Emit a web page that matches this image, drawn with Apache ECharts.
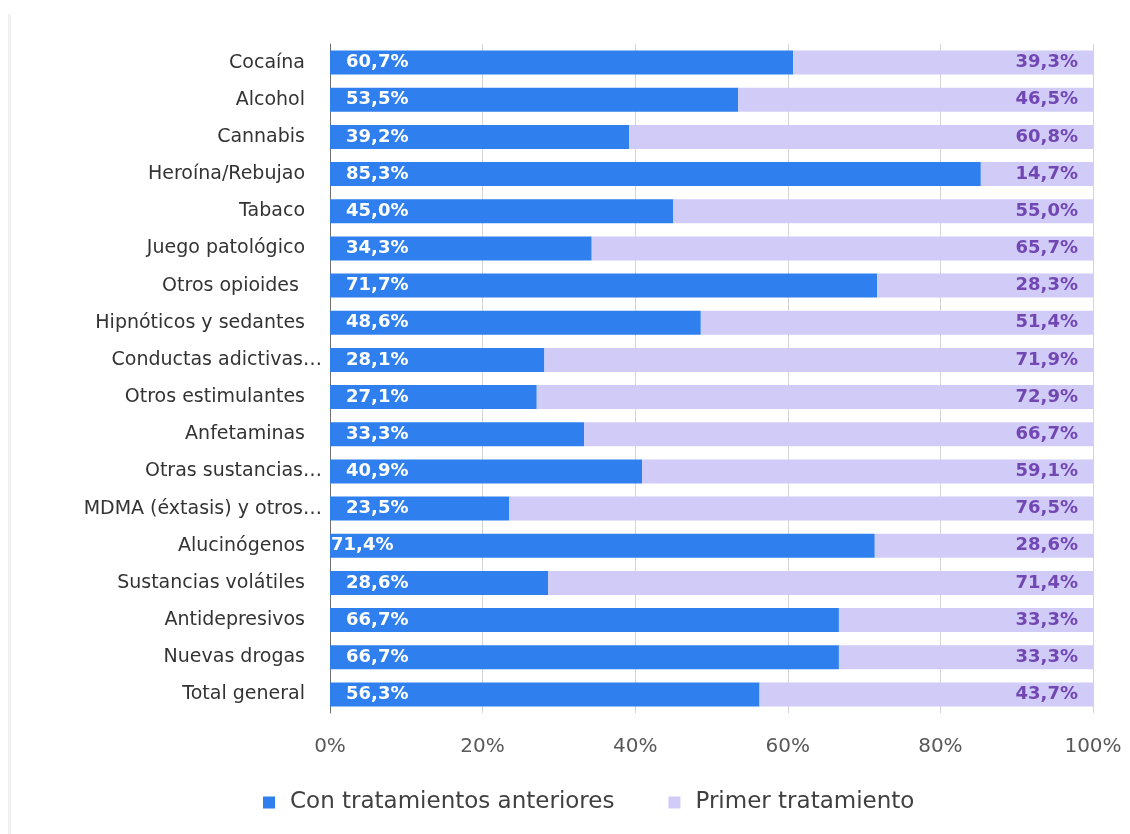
<!DOCTYPE html>
<html>
<head>
<meta charset="utf-8">
<script src="https://cdn.jsdelivr.net/npm/echarts@6/dist/echarts.min.js"></script>
<style>
  html, body { margin: 0; padding: 0; background: #ffffff; }
  #chart { width: 1130px; height: 834px; }
</style>
</head>
<body>
<div id="chart"></div>
<script>
// Categories, top to bottom as displayed
const categories = [
  'Cocaína', 'Alcohol', 'Cannabis', 'Heroína/Rebujao', 'Tabaco',
  'Juego patológico', 'Otros opioides ', 'Hipnóticos y sedantes',
  'Conductas adictivas…', 'Otros estimulantes', 'Anfetaminas',
  'Otras sustancias…', 'MDMA (éxtasis) y otros…', 'Alucinógenos',
  'Sustancias volátiles', 'Antidepresivos', 'Nuevas drogas', 'Total general'
];

// Share of patients with previous treatments (%)
const conTratamientos = [
  60.7, 53.5, 39.2, 85.3, 45.0, 34.3, 71.7, 48.6, 28.1,
  27.1, 33.3, 40.9, 23.5, 71.4, 28.6, 66.7, 66.7, 56.3
];

// Share of patients in their first treatment (%)
const primerTratamiento = [
  39.3, 46.5, 60.8, 14.7, 55.0, 65.7, 28.3, 51.4, 71.9,
  72.9, 66.7, 59.1, 76.5, 28.6, 71.4, 33.3, 33.3, 43.7
];

const xTicks = ['0%', '20%', '40%', '60%', '80%', '100%'];

const FONT = '"DejaVu Sans", "Open Sans", sans-serif';
const fmt = v => v.toFixed(1).replace('.', ',') + '%';

// Labels that sit tighter against the axis inside their bar
const tightLabels = { 'Alucinógenos': 1 };

const blueData = conTratamientos.map((v, i) =>
  tightLabels[categories[i]] !== undefined
    ? { value: v, label: { distance: tightLabels[categories[i]] } }
    : v
);

const chart = echarts.init(document.getElementById('chart'));
chart.setOption({
  backgroundColor: '#ffffff',
  animation: false,
  graphic: [{
    type: 'rect',
    shape: { x: 8, y: 14, width: 3, height: 820 },
    style: { fill: '#f1f1f1' },
    silent: true
  }],
  grid: { left: 330, right: 37, top: 44, bottom: 121, containLabel: false },
  legend: {
    bottom: 15,
    left: 258,
    itemWidth: 12,
    itemHeight: 12,
    itemGap: 54,
    icon: 'rect',
    textStyle: { fontFamily: FONT, fontSize: 23, color: '#404040', padding: [0, 0, 0, 10] },
    data: ['Con tratamientos anteriores', 'Primer tratamiento']
  },
  xAxis: {
    type: 'value',
    min: 0,
    max: 100,
    interval: 20,
    axisLine: { show: false },
    axisTick: { show: false },
    splitLine: { show: true, lineStyle: { color: '#d4d4d4', width: 1 } },
    axisLabel: {
      margin: 24,
      fontFamily: FONT,
      fontSize: 20,
      color: '#595959',
      formatter: v => xTicks[Math.round(v / 20)]
    }
  },
  yAxis: {
    type: 'category',
    inverse: true,
    data: categories,
    axisLine: { show: true, lineStyle: { color: '#707070', width: 1 } },
    axisTick: { show: false },
    axisLabel: {
      margin: 8,
      fontFamily: FONT,
      fontSize: 19,
      color: '#333333',
      formatter: v => v.endsWith('…') ? '{e|' + v + '}' : '{n|' + v + '}',
      rich: {
        e: { fontFamily: FONT, fontSize: 19, color: '#333333' },
        n: { fontFamily: FONT, fontSize: 19, color: '#333333', padding: [0, 17, 0, 0] }
      }
    }
  },
  series: [
    {
      name: 'Con tratamientos anteriores',
      type: 'bar',
      stack: 'total',
      barWidth: 24,
      itemStyle: { color: '#2f7fef' },
      label: {
        show: true,
        position: 'insideLeft',
        distance: 16,
        fontFamily: FONT,
        fontSize: 18,
        fontWeight: 'bold',
        color: '#ffffff',
        formatter: p => fmt(p.value)
      },
      data: blueData
    },
    {
      name: 'Primer tratamiento',
      type: 'bar',
      stack: 'total',
      barWidth: 24,
      itemStyle: { color: '#d0ccf7' },
      label: {
        show: true,
        position: 'insideRight',
        distance: 15,
        fontFamily: FONT,
        fontSize: 18,
        fontWeight: 'bold',
        color: '#7247b3',
        formatter: p => fmt(p.value)
      },
      data: primerTratamiento
    }
  ]
});
</script>
</body>
</html>
